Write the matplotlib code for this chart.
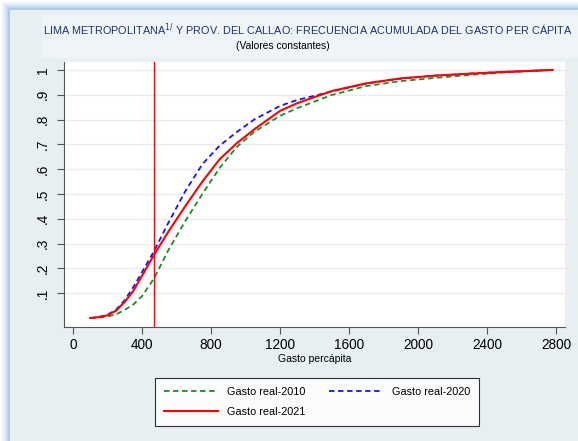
import matplotlib
matplotlib.use("Agg")
from matplotlib import pyplot as plt
from matplotlib.patches import Rectangle

# gasto per capita (soles constantes) y frecuencia acumulada
gasto = [100, 150, 200, 250, 300, 350, 400, 470, 550, 650, 750, 850, 950,
         1050, 1200, 1300, 1500, 1700, 1900, 2100, 2300, 2500, 2780]
acum_2010 = [0.0, 0.002, 0.006, 0.015, 0.033, 0.055, 0.088, 0.16, 0.27, 0.39, 0.50,
             0.605, 0.69, 0.75, 0.815, 0.846, 0.899, 0.935, 0.955, 0.968, 0.98, 0.99, 1.0]
acum_2020 = [0.0, 0.004, 0.013, 0.034, 0.072, 0.125, 0.185, 0.27, 0.38, 0.51, 0.62,
             0.695, 0.75, 0.80, 0.855, 0.879, 0.913, 0.945, 0.965, 0.977, 0.985, 0.992, 1.0]
acum_2021 = [0.0, 0.004, 0.011, 0.03, 0.065, 0.11, 0.17, 0.255, 0.345, 0.45, 0.55,
             0.64, 0.705, 0.76, 0.835, 0.866, 0.915, 0.946, 0.966, 0.977, 0.985, 0.992, 1.0]
linea_pobreza = 470

x_ticks = [0, 400, 800, 1200, 1600, 2000, 2400, 2800]
y_ticks = [0.1, 0.2, 0.3, 0.4, 0.5, 0.6, 0.7, 0.8, 0.9, 1.0]
y_labels = [".1", ".2", ".3", ".4", ".5", ".6", ".7", ".8", ".9", "1"]

plt.rcParams['font.family'] = ['Liberation Sans', 'DejaVu Sans']

fig = plt.figure(figsize=(5.78, 4.41), dpi=100)
fig.patch.set_facecolor("white")
W, H = 578, 441

def px_rect(x0, y0, x1, y1, color, z=-10):
    fig.patches.append(Rectangle((x0 / W, 1 - y1 / H), (x1 - x0) / W, (y1 - y0) / H,
                                 transform=fig.transFigure, facecolor=color,
                                 edgecolor="none", zorder=z))

# marco azul claro + panel
for i, c in enumerate(["#EEF4FB", "#DCE9F7", "#C6DBF2", "#AECBEB"]):
    px_rect(2 + i * 2, 2 + i * 2, W, H, c)
px_rect(10, 10, W, H, "#E8EFF2")
px_rect(42, 15, W, 58, "#EEF4F8")

fig.text(308 / W, 1 - 30 / H,
         "LIMA METROPOLITANA$^{1/}$ Y PROV. DEL CALLAO: FRECUENCIA ACUMULADA DEL GASTO PER CÁPITA",
         ha="center", va="center", fontsize=7.85, color="#1F3468")
fig.text(283 / W, 1 - 46 / H, "(Valores constantes)", ha="center", va="center",
         fontsize=7.4, color="black")

ax = fig.add_axes([64 / W, 1 - 327 / H, (565 - 64) / W, (327 - 62) / H])
ax.set_facecolor("white")

l10, = ax.plot(gasto, acum_2010, color="#1E8C1E", linestyle=(0, (3, 2)), linewidth=1.3,
               label="Gasto real-2010")
l20, = ax.plot(gasto, acum_2020, color="#1414FF", linestyle=(0, (3, 2)), linewidth=1.3,
               label="Gasto real-2020")
l21, = ax.plot(gasto, acum_2021, color="#FF0000", linewidth=1.5, label="Gasto real-2021")
ax.axvline(linea_pobreza, color="#FF0000", linewidth=1)

ax.set_xlim(-52, 2852)
ax.set_ylim(-0.036, 1.032)
ax.set_xticks(x_ticks)
ax.set_xticklabels([str(t) for t in x_ticks], fontsize=9.8)
ax.set_yticks(y_ticks)
ax.set_yticklabels(y_labels, fontsize=9.8, rotation=90, va="center")
ax.grid(axis="y", color="#E4ECF0", linewidth=1)
ax.set_axisbelow(True)
for s in ["top", "right"]:
    ax.spines[s].set_visible(False)
for s in ["left", "bottom"]:
    ax.spines[s].set_color("#555555")
ax.tick_params(direction="out", length=5, color="#555555", pad=3)
ax.tick_params(axis="y", pad=5)
ax.set_xlabel("Gasto percápita", fontsize=7.5, labelpad=1)

leg = fig.legend([l10, l21, l20], ["Gasto real-2010", "Gasto real-2021", "Gasto real-2020"],
                 loc="upper left", bbox_to_anchor=(150 / W, 1 - 373 / H), ncol=2,
                 fontsize=7.8, frameon=True, fancybox=False, handlelength=5.0,
                 columnspacing=2.2, borderpad=0.8, labelspacing=0.9)
leg.get_frame().set_edgecolor("black")
leg.get_frame().set_linewidth(0.8)

fig.savefig("out.png", dpi=100)
